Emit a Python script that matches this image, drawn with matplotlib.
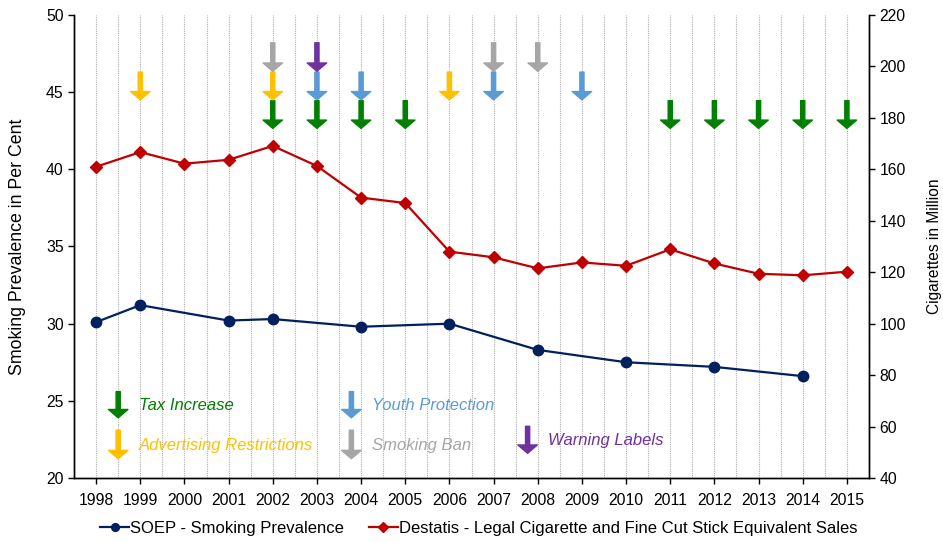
import numpy as np
import matplotlib.pyplot as plt
from matplotlib.patches import FancyArrowPatch

plt.rcParams['font.family'] = ['Liberation Sans', 'DejaVu Sans']

# SOEP smoking prevalence (left axis, per cent)
soep_years = [1998, 1999, 2001, 2002, 2004, 2006, 2008, 2010, 2012, 2014]
soep_values = [30.1, 31.2, 30.2, 30.3, 29.8, 30.0, 28.3, 27.5, 27.2, 26.6]

# Destatis sales (right axis, million cigarettes)
destatis_years = list(range(1998, 2016))
destatis_values = [161.0, 166.7, 162.2, 163.7, 169.1, 161.3, 149.0, 146.9, 128.0,
                   125.8, 121.5, 123.8, 122.5, 128.9, 123.4, 119.4, 118.8, 120.2]

# policy events per year
tax_years = [2002, 2003, 2004, 2005, 2011, 2012, 2013, 2014, 2015]
advert_years = [1999, 2002, 2006]
youth_years = [2003, 2004, 2007, 2009]
ban_years = [2002, 2007, 2008]
warning_years = [2003]

c_tax = '#008000'
c_adv = '#FFC000'
c_youth = '#5B9BD5'
c_ban = '#A6A6A6'
c_warn = '#7030A0'

fig = plt.figure(figsize=(9.43, 5.43), dpi=100)
ax = fig.add_axes([0.0785, 0.1197, 0.843, 0.8527])
ax2 = ax.twinx()

# dotted vertical grid at years and half years
for gx in np.arange(1998, 2015.6, 0.5):
    ax.axvline(gx, color='#b0b0b0', lw=0.8, ls=(0, (1, 1)), zorder=0)


def arrow(x, top, tip, color):
    p = FancyArrowPatch((x, top), (x, tip), arrowstyle='simple,head_length=0.6,head_width=1.4,tail_width=0.3',
                        mutation_scale=10, color=color, shrinkA=0, shrinkB=0, zorder=3)
    ax.add_patch(p)


rows = {1: (48.2, 46.35), 2: (46.3, 44.5), 3: (44.45, 42.65)}
for y in tax_years:
    arrow(y, *rows[3], c_tax)
for y in advert_years:
    arrow(y, *rows[2], c_adv)
for y in youth_years:
    arrow(y, *rows[2], c_youth)
for y in ban_years:
    arrow(y, *rows[1], c_ban)
for y in warning_years:
    arrow(y, *rows[1], c_warn)

# key of policy arrows inside the plot
key = [(1998.5, 25.6, 23.9, c_tax, 'Tax Increase'),
       (1998.5, 23.1, 21.25, c_adv, 'Advertising Restrictions'),
       (2003.78, 25.6, 23.9, c_youth, 'Youth Protection'),
       (2003.78, 23.1, 21.25, c_ban, 'Smoking Ban'),
       (2007.77, 23.35, 21.6, c_warn, 'Warning Labels')]
for kx, kt, kb, kc, label in key:
    arrow(kx, kt, kb, kc)
    ax.text(kx + 0.47, (kt + kb) / 2 - 0.05, label, color=kc, style='italic',
            fontsize=12, va='center', ha='left')

l1, = ax.plot(soep_years, soep_values, color='#002060', lw=1.6, marker='o', ms=7.5,
              label='SOEP - Smoking Prevalence', zorder=4)
l2, = ax2.plot(destatis_years, destatis_values, color='#C00000', lw=1.6, marker='D', ms=6.5,
               label='Destatis - Legal Cigarette and Fine Cut Stick Equivalent Sales', zorder=4)

ax.set_xlim(1997.5, 2015.5)
ax.set_ylim(20, 50)
ax2.set_ylim(40, 220)
ax.set_xticks(destatis_years)
ax.set_yticks(np.arange(20, 51, 5))
ax2.set_yticks(np.arange(40, 221, 20))

for a in (ax, ax2):
    a.spines['top'].set_visible(False)
    a.tick_params(labelsize=11.3, length=4, color='black', width=1)
    for s in a.spines.values():
        s.set_linewidth(1.0)
ax.tick_params(axis='x', pad=7)
ax.set_ylabel('Smoking Prevalence in Per Cent', fontsize=12.8)
ax.yaxis.set_label_coords(-0.06, 0.5)
ax2.set_ylabel('Cigarettes in Million', fontsize=11.2)
ax2.yaxis.set_label_coords(1.073, 0.5)

fig.legend(handles=[l1, l2], loc='center', bbox_to_anchor=(0.508, 0.027), ncol=2, frameon=False,
           fontsize=12, handlelength=1.7, handletextpad=0.1, columnspacing=1.5, markerscale=0.75)

fig.savefig('out.png', dpi=100)
